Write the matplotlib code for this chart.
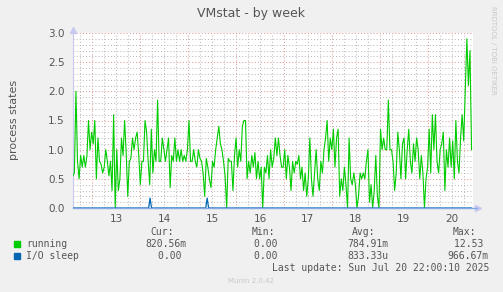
import numpy as np
import matplotlib
matplotlib.use("Agg")
import matplotlib.pyplot as plt
from matplotlib.ticker import MultipleLocator, FuncFormatter, NullFormatter

# values (day of month on x, Jul 13 00:00 = 13.0)
running = [
    0.55, 0.6, 2.0, 0.8, 0.5, 0.9, 0.7, 0.9, 0.7, 0.9, 1.5, 1.0, 1.3, 1.1, 1.5, 0.5,
    1.2, 0.8, 0.75, 0.6, 0.7, 1.0, 0.8, 0.55, 0.8, 0.3, 1.6, 0.0, 1.0, 0.3, 0.5, 1.2,
    0.9, 1.5, 0.95, 0.2, 0.8, 0.85, 1.2, 1.0, 1.2, 1.3, 0.9, 0.4, 0.8, 0.8, 1.5, 1.3,
    0.8, 0.4, 1.35, 0.6, 1.0, 0.8, 1.85, 0.8, 0.8, 1.2, 1.0, 0.8, 1.0, 1.2, 0.35, 0.9,
    0.8, 1.2, 0.8, 1.0, 0.8, 1.0, 0.8, 0.9, 0.8, 1.0, 1.5, 0.8, 0.8, 1.0, 0.8, 0.7,
    1.0, 0.85, 0.8, 0.6, 0.2, 0.85, 0.7, 0.5, 0.35, 0.8, 0.7, 1.0, 1.2, 1.4, 1.1, 1.0,
    0.8, 0.55, 0.0, 0.85, 0.8, 0.8, 0.3, 0.9, 1.2, 0.7, 1.0, 0.8, 1.4, 1.5, 1.5, 0.5,
    0.8, 0.6, 0.9, 0.7, 0.95, 0.5, 0.8, 0.5, 0.7, 0.0, 0.7, 0.6, 0.9, 0.5, 1.0, 0.7,
    0.85, 1.2, 0.9, 1.2, 0.9, 0.7,
    0.7, 1.0, 0.5, 0.9, 0.7, 0.3, 0.8, 0.6, 0.8, 0.75, 0.9, 0.5, 0.7, 0.3, 0.6, 0.2,
    0.5, 1.2, 0.5, 0.2, 0.6, 1.0, 0.5, 0.3, 0.8, 0.6, 1.0, 1.2, 1.5, 0.8, 1.2, 1.0,
    1.35, 0.7, 1.2, 1.35, 0.2, 0.5, 0.3, 0.7, 0.4, 0.0, 1.2, 0.5, 0.4, 0.6, 0.4, 0.0,
    0.2, 0.6, 0.5, 0.6, 0.5, 0.8, 1.0, 0.1, 0.4, 0.0, 0.3, 0.9, 0.2, 0.0, 1.35, 1.0,
    1.2, 1.0, 1.0, 1.85, 1.0, 1.0, 0.8, 0.3, 0.6, 1.3, 1.0, 0.5, 1.1, 1.2, 0.5, 1.0,
    1.35, 0.8, 0.6, 1.1, 0.8, 1.2, 1.0, 0.5, 0.9, 0.6, 0.0, 0.5, 0.7, 1.35, 0.6, 1.6,
    1.0, 1.6, 0.8, 0.6, 1.0, 1.1, 1.3, 0.3, 1.0, 0.7, 1.2, 0.7, 1.15, 0.5, 1.5, 0.8,
    0.6, 1.2, 1.6, 1.15, 2.0, 2.9, 2.1, 2.7, 1.0,
]
t_first, t_last = 12.60, 20.91
io_spike_days = [14.21, 15.40]
io_spike_vals = [0.17, 0.17]
day_labels = [13, 14, 15, 16, 17, 18, 19, 20]

legend_rows = [
    ("running", "#00CC00", "820.56m", "0.00 ", "784.91m", "12.53 "),
    ("I/O sleep", "#0066B3", "0.00 ", "0.00 ", "833.33u", "966.67m"),
]
last_update = "Last update: Sun Jul 20 22:00:10 2025"

W, H = 503, 292
TXT = "#555555"
AXIS = "#C8C8F0"


def fx(x):
    return x / W


def fy(y):
    return 1 - y / H


fig = plt.figure(figsize=(W / 100, H / 100), dpi=100, facecolor="#F0F0F0")
ax = fig.add_axes([fx(73), fy(208), 400 / W, 175 / H], facecolor="white")

t = np.linspace(t_first, t_last, len(running))
ax.plot(t, running, color="#00CC00", lw=0.8, zorder=3)

# I/O sleep: flat at zero with two narrow spikes
io_t = [t_first]
io_v = [0.0]
for d, v in zip(io_spike_days, io_spike_vals):
    io_t += [d - 0.03, d, d + 0.03]
    io_v += [0.0, v, 0.0]
io_t.append(t_last)
io_v.append(0.0)
ax.plot(io_t, io_v, color="#0066B3", lw=0.9, zorder=4)

ax.set_xlim(12.604, 20.94)
ax.set_ylim(0, 3.0)

ax.xaxis.set_major_locator(MultipleLocator(1))
ax.xaxis.set_minor_locator(MultipleLocator(0.25))
ax.xaxis.set_major_formatter(NullFormatter())
ax.xaxis.set_minor_formatter(FuncFormatter(
    lambda x, p: str(int(x)) if abs(x % 1 - 0.5) < 1e-6 and int(x) in day_labels else ""))
ax.yaxis.set_major_locator(MultipleLocator(0.5))
ax.yaxis.set_minor_locator(MultipleLocator(0.1))
ax.yaxis.set_major_formatter(FuncFormatter(lambda y, p: f"{y:.1f}"))

ax.grid(which="minor", color="#BDBDBD", linestyle=(0, (1, 2)), lw=0.75)
ax.grid(which="major", color="#E39A9A", linestyle=(0, (1, 2)), lw=0.75)
ax.set_axisbelow(True)

ax.tick_params(which="both", length=0, colors=TXT, labelsize=7.5)
ax.tick_params(axis="x", which="minor", pad=4)
ax.tick_params(axis="y", pad=6)
for s in ["top", "right", "bottom"]:
    ax.spines[s].set_visible(False)
ax.spines["left"].set_color(AXIS)
ax.spines["left"].set_linewidth(0.8)

# x axis line in light blue over the zero level, with arrows on both axes
ax.plot([0, 1.01], [0, 0], color="#86A8E4", lw=1.0, transform=ax.transAxes,
        clip_on=False, zorder=5)
ax.plot([0], [1.02], marker="^", ms=4.5, color=AXIS, transform=ax.transAxes,
        clip_on=False)
ax.plot([1.012], [0], marker=">", ms=4.5, color=AXIS, transform=ax.transAxes,
        clip_on=False, zorder=1)

fig.text(fx(251), fy(13), "VMstat - by week", ha="center", va="center",
         fontsize=9, color=TXT)
fig.text(fx(14), fy(120), "process states", ha="center", va="center",
         rotation=90, fontsize=8, color=TXT)
fig.text(fx(493), fy(6), "RRDTOOL / TOBI OETIKER", ha="center", va="top",
         rotation=270, fontsize=5, color="#C8C8C8")

mono = "DejaVu Sans Mono"
for x, lab in zip([174, 275, 375, 476], ["Cur:", "Min:", "Avg:", "Max:"]):
    fig.text(fx(x), fy(232), lab, ha="right", va="center", family=mono,
             fontsize=7, color=TXT)
for i, (name, col, cur, mn, avg, mx) in enumerate(legend_rows):
    y = 244 + 12 * i
    fig.patches.append(plt.Rectangle((fx(14), fy(y + 3)), 6 / W, 6 / H,
                                     transform=fig.transFigure, color=col))
    fig.text(fx(26), fy(y), name, ha="left", va="center", family=mono,
             fontsize=7, color=TXT)
    for x, val in zip([187, 283, 388, 489], [cur, mn, avg, mx]):
        fig.text(fx(x), fy(y), val, ha="right", va="center", family=mono,
                 fontsize=7, color=TXT)
fig.text(fx(489), fy(268), last_update, ha="right", va="center", family=mono,
         fontsize=7, color=TXT)
fig.text(fx(251), fy(281), "Munin 2.0.42", ha="center", va="center",
         fontsize=5, color="#C8C8C8")

fig.savefig("out.png", dpi=100, facecolor=fig.get_facecolor())
